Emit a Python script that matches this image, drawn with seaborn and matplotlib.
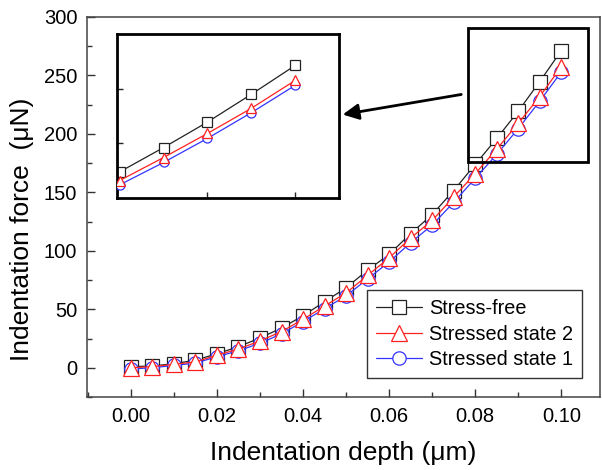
import numpy as np
import matplotlib
matplotlib.use("Agg")
import matplotlib.pyplot as plt
import seaborn as sns
from matplotlib.patches import Rectangle
from matplotlib.ticker import MultipleLocator

sns.set_style("ticks")
plt.rcParams['font.family'] = ['Liberation Sans', 'DejaVu Sans']
plt.rcParams['text.color'] = 'black'
plt.rcParams['axes.labelcolor'] = 'black'
plt.rcParams['xtick.labelcolor'] = 'black'
plt.rcParams['ytick.labelcolor'] = 'black'

# values
depth = [0.000, 0.005, 0.010, 0.015, 0.020, 0.025, 0.030, 0.035, 0.040, 0.045, 0.050,
         0.055, 0.060, 0.065, 0.070, 0.075, 0.080, 0.085, 0.090, 0.095, 0.100]
stress_free = [1.0, 1.5, 3.5, 6.5, 12.0, 18.0, 25.5, 34.0, 44.5, 56.5, 68.4,
               83.5, 97.0, 114.7, 131.0, 151.6, 173.9, 196.1, 219.4, 244.8, 271.2]
stressed_2 = [0.0, 1.0, 3.0, 5.0, 10.8, 16.0, 23.0, 31.0, 41.5, 52.8, 64.0,
              79.0, 94.0, 111.0, 126.0, 146.0, 166.0, 187.0, 209.0, 232.0, 257.5]
stressed_1 = [-1.0, 0.0, 2.0, 4.0, 9.5, 14.5, 21.0, 29.0, 39.5, 50.5, 61.5,
              76.0, 90.5, 107.0, 122.0, 141.5, 162.0, 182.5, 204.5, 228.0, 253.0]

series = [
    ("Stress-free", stress_free, "#222222", "s", 9.6, 2),
    ("Stressed state 1", stressed_1, "#3333ff", "o", 9.6, 3),
    ("Stressed state 2", stressed_2, "#ff2020", "^", 11.0, 4),
]
legend_order = ["Stress-free", "Stressed state 2", "Stressed state 1"]

fig = plt.figure(figsize=(6.02, 4.70), dpi=100)
ax = fig.add_axes([87 / 602, 1 - 397 / 470, 513 / 602, 380 / 470])

for name, vals, col, mk, ms, z in series:
    sns.lineplot(x=depth, y=vals, ax=ax, color=col, lw=0.9, marker=mk, markersize=ms,
                 markerfacecolor="white", markeredgecolor=col, markeredgewidth=0.9,
                 label=name, zorder=z)

ax.set_xlim(-0.0102, 0.109)
ax.set_ylim(-25, 300)
ax.xaxis.set_major_locator(MultipleLocator(0.02))
ax.xaxis.set_minor_locator(MultipleLocator(0.01))
ax.yaxis.set_major_locator(MultipleLocator(50))
ax.yaxis.set_minor_locator(MultipleLocator(25))
ax.xaxis.set_major_formatter(matplotlib.ticker.FormatStrFormatter("%.2f"))
ax.tick_params(which="major", direction="in", length=6, width=1, labelsize=14.5,
               pad=7, color="#333333", labelcolor="black", top=False, right=False)
ax.tick_params(which="minor", direction="in", length=3.5, width=1, color="#333333",
               top=False, right=False)
for sp in ax.spines.values():
    sp.set_linewidth(1.1)
    sp.set_color("#444444")

ax.set_xlabel("Indentation depth (\u03bcm)", fontsize=19, labelpad=11, color="black")
ax.set_ylabel("Indentation force  (\u03bcN)", fontsize=19, color="black")
ax.yaxis.set_label_coords(-0.103, 0.44)

handles, labels = ax.get_legend_handles_labels()
lookup = dict(zip(labels, handles))
leg = ax.legend([lookup[n] for n in legend_order], legend_order, loc="lower left",
                bbox_to_anchor=(0.546, 0.05), fontsize=14.3, frameon=True, fancybox=False,
                edgecolor="#333333", framealpha=1, handlelength=2.3, handletextpad=0.35,
                labelspacing=0.32, borderpad=0.45, borderaxespad=0)
leg.get_frame().set_linewidth(1.0)
for t in leg.get_texts():
    t.set_color("black")

# zoom box in the main axes
ax.add_patch(Rectangle((0.0784, 176.4), 0.0277, 114.1, fill=False, lw=2,
                       edgecolor="black", zorder=6))

# inset
axin = fig.add_axes([117 / 602, 1 - 198 / 470, 222 / 602, 164 / 470])
sel = slice(16, 21)
for name, vals, col, mk, ms, z in series:
    sns.lineplot(x=depth[sel], y=vals[sel], ax=axin, color=col, lw=0.9, marker=mk,
                 markersize=ms * 0.68, markerfacecolor="white", markeredgecolor=col,
                 markeredgewidth=0.9, zorder=z, legend=False)
axin.set_xlim(0.0797, 0.105)
axin.set_ylim(150, 300)
axin.set_xticks([0.09, 0.10])
axin.set_yticks([200, 250])
axin.tick_params(direction="in", length=4, width=1, labelbottom=False, labelleft=False)
axin.set_xlabel("")
axin.set_ylabel("")
for sp in axin.spines.values():
    sp.set_linewidth(2)
    sp.set_color("black")

# arrow from the zoom box to the inset
fig.add_artist(matplotlib.patches.FancyArrowPatch(
    (464 / 602, 1 - 94 / 470), (340 / 602, 1 - 115 / 470), transform=fig.transFigure,
    arrowstyle="-|>", mutation_scale=24, lw=2, color="black"))

fig.savefig("out.png", dpi=100)
